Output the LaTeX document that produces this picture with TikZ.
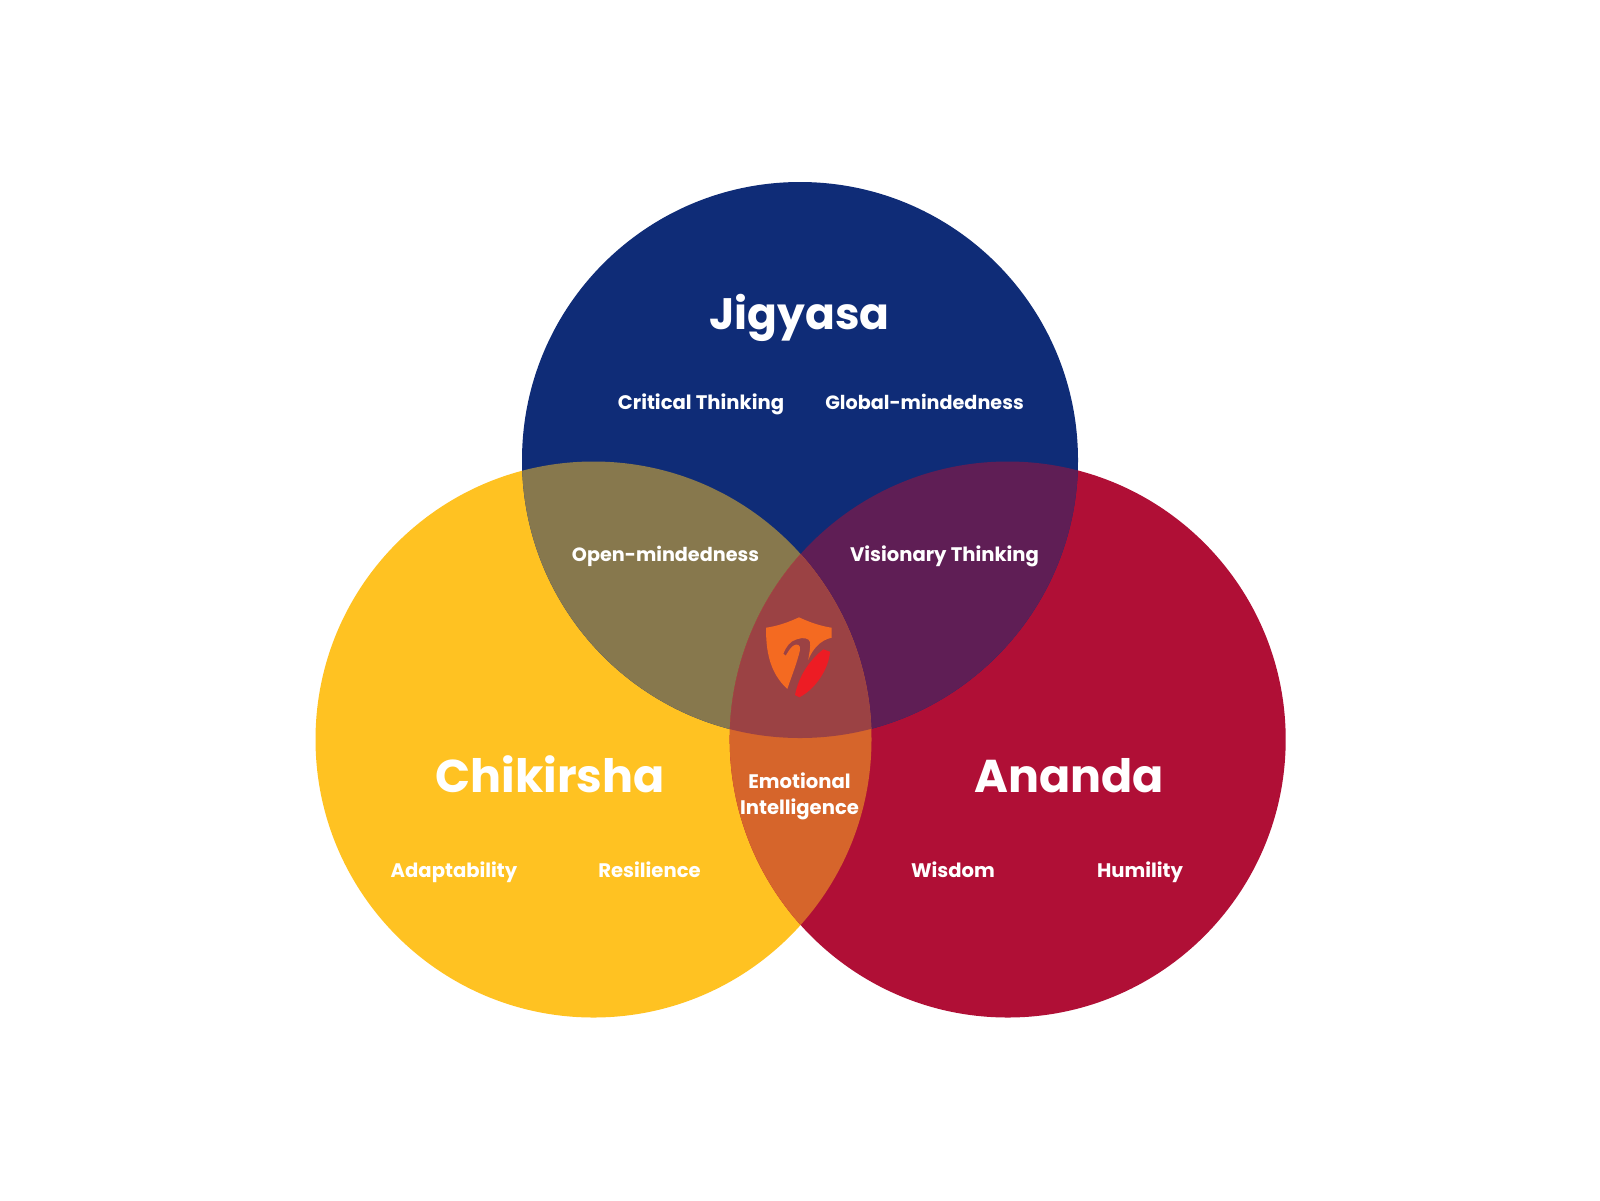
\documentclass[tikz,border=0pt]{standalone}
\usepackage{fontspec}
\setmainfont{Poppins}[BoldFont={Poppins Bold}]
\definecolor{cblue}{HTML}{0F2C77}
\definecolor{cyellow}{HTML}{FFC222}
\definecolor{cred}{HTML}{B00F36}
\definecolor{colive}{HTML}{87784D}
\definecolor{cpurple}{HTML}{5F1E55}
\definecolor{ccentre}{HTML}{9B4244}
\definecolor{corange}{HTML}{D6652B}
\definecolor{lorange}{HTML}{F46A21}
\definecolor{lred}{HTML}{ED1C24}
\tikzset{
  title/.style={text=white,font=\bfseries\fontsize{23}{28}\selectfont,inner sep=0pt,anchor=base},
  item/.style={text=white,font=\bfseries\fontsize{9.8}{13.25}\selectfont,inner sep=0pt,anchor=base,align=center},
  venn/.style={radius=139pt},
}
\begin{document}
\begin{tikzpicture}[x=0.5pt,y=-0.5pt]
\useasboundingbox (0,0) rectangle (1600,1200);
\fill[white] (0,0) rectangle (1600,1200);
\fill[cyellow] (593.5,739.5) circle [venn];
\fill[cred] (1007.7,739.5) circle [venn];
\fill[cblue] (800,460) circle [venn];
\begin{scope}
\clip (593.5,739.5) circle [venn];
\fill[colive] (800,460) circle [venn];
\end{scope}
\begin{scope}
\clip (1007.7,739.5) circle [venn];
\fill[cpurple] (800,460) circle [venn];
\end{scope}
\begin{scope}
\clip (593.5,739.5) circle [venn];
\fill[corange] (1007.7,739.5) circle [venn];
\clip (1007.7,739.5) circle [venn];
\fill[ccentre] (800,460) circle [venn];
\end{scope}
% logo
\fill[lorange] (799,617.3) .. controls (789,622) and (778,626) .. (766,627.7)
  .. controls (766,650) and (769,672) .. (787.3,689)
  .. controls (792,675) and (797,663) .. (800,650)
  .. controls (801,645) and (797,643) .. (793.3,645.7)
  .. controls (790,648) and (788,652) .. (785.7,655.7)
  -- (783.3,653.7)
  .. controls (786,647) and (790,641) .. (796.7,639.3)
  .. controls (803,637) and (809,638) .. (810,642)
  .. controls (811,647) and (809,653) .. (808.3,660)
  .. controls (812,650) and (820,640) .. (831.7,637.7)
  -- (831.7,627.7) .. controls (820,626) and (809,622) .. (799,617.3) -- cycle;
\fill[lred] (830,651.7) .. controls (829,668) and (816,689) .. (799.3,697.3)
  -- (795,695) .. controls (798,680) and (806,663) .. (823.3,649.3) -- cycle;
\node[title,font=\bfseries\fontsize{22}{28}\selectfont] (jig) at (799.5,329.5) {Jigyasa};
\node[title] (chi) at (550,792.5) {Chikirsha};
\node[title] (ana) at (1069,792.5) {Ananda};
\node[item] (crit) at (701,409.5) {Critical Thinking};
\node[item,font=\bfseries\fontsize{9.6}{13.25}\selectfont] (glob) at (924.5,409.5) {Global-mindedness};
\node[item,font=\bfseries\fontsize{9.6}{13.25}\selectfont] (open) at (665.5,561) {Open-mindedness};
\node[item] (vis) at (944.5,561.5) {Visionary Thinking};
\node[item] (emo) at (799.5,814.5) {Emotional\\Intelligence};
\node[item] (ada) at (454,877) {Adaptability};
\node[item] (res) at (649.5,877) {Resilience};
\node[item] (wis) at (953,877) {Wisdom};
\node[item] (hum) at (1140,877) {Humility};
\end{tikzpicture}
\end{document}
